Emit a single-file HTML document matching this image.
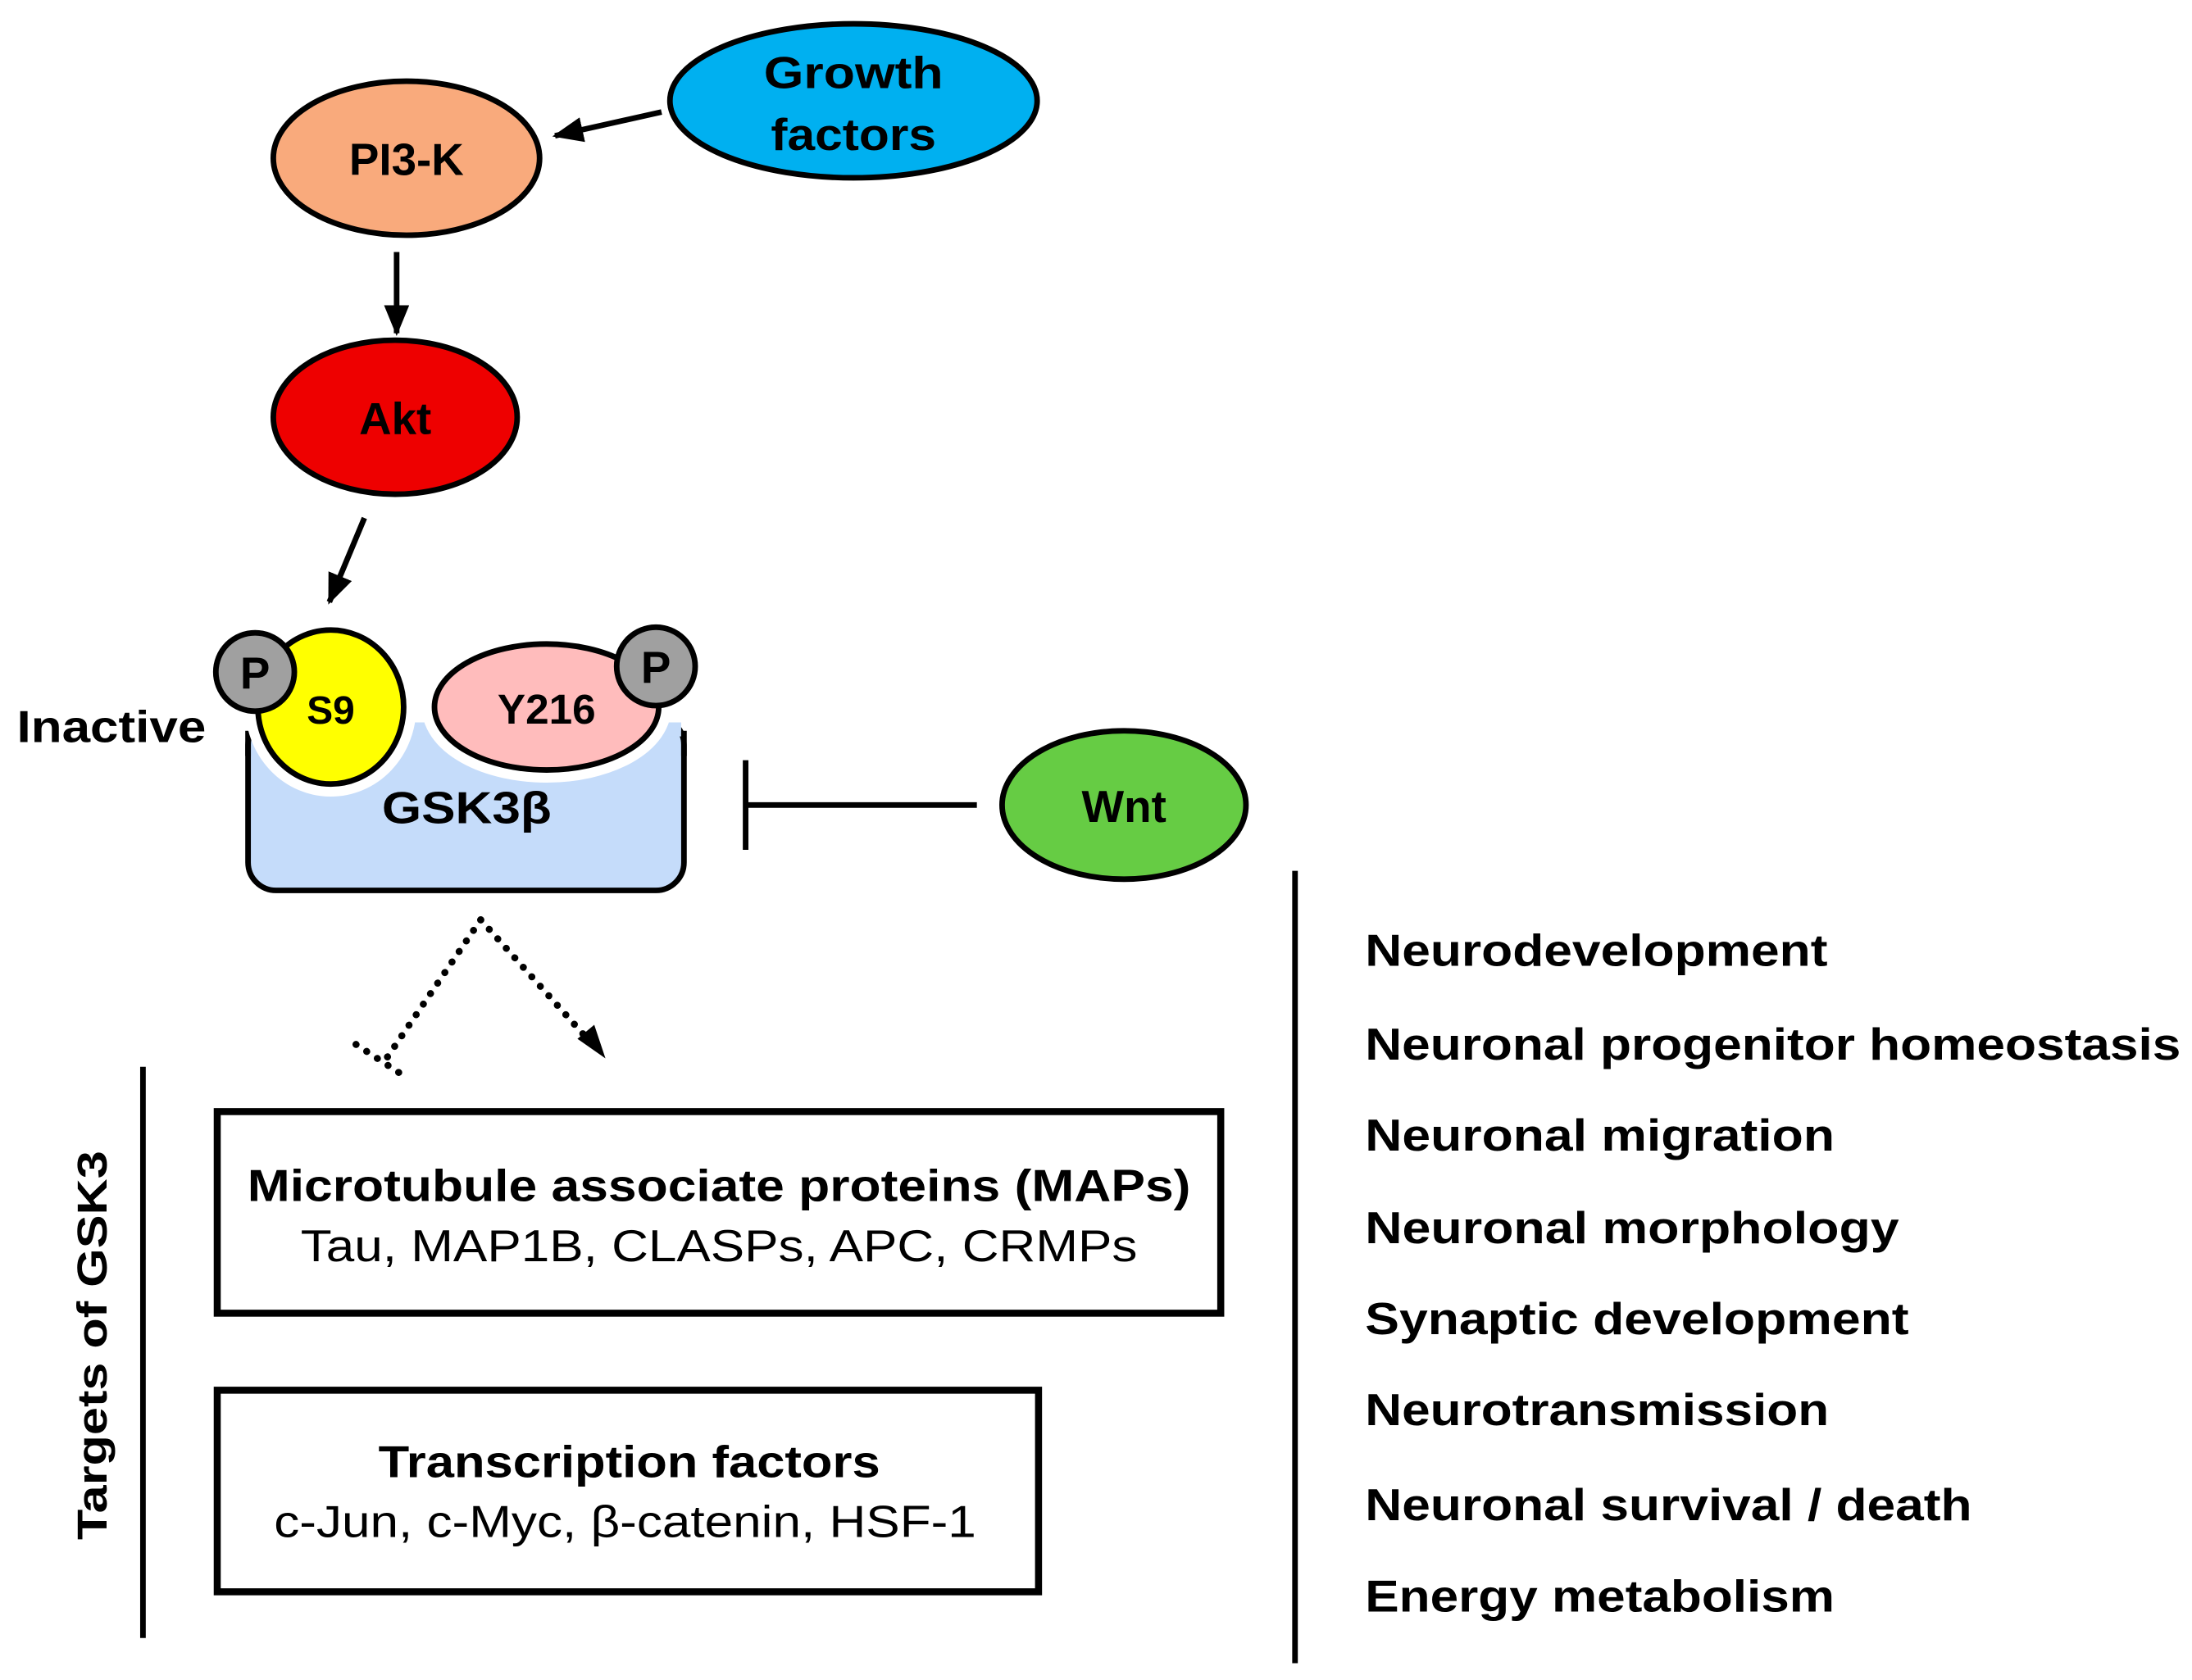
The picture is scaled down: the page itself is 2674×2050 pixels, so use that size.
<!DOCTYPE html>
<html><head><meta charset="utf-8"><style>
html,body{margin:0;padding:0;background:#fff;}
svg{display:block;}
text{font-family:"Liberation Sans",Arial,sans-serif;fill:#000;}
</style></head><body>
<svg width="2674" height="2050" viewBox="0 0 1564 1200" preserveAspectRatio="none" xmlns="http://www.w3.org/2000/svg">
<defs>
<marker id="ah2" markerWidth="22" markerHeight="18" refX="20" refY="9" orient="auto" markerUnits="userSpaceOnUse">
<path d="M0,0 L22,9 L0,18 z" fill="#000"/>
</marker>
</defs>
<ellipse cx="609" cy="72" rx="131" ry="55" fill="#00b0f0" stroke="#000" stroke-width="4"/>
<text x="609" y="63" font-size="32" font-weight="bold" text-anchor="middle" textLength="128" lengthAdjust="spacingAndGlyphs">Growth</text>
<text x="609" y="107" font-size="32" font-weight="bold" text-anchor="middle" textLength="118" lengthAdjust="spacingAndGlyphs">factors</text>
<ellipse cx="290" cy="113" rx="95" ry="55" fill="#f9aa7c" stroke="#000" stroke-width="4"/>
<text x="290" y="125" font-size="32" font-weight="bold" text-anchor="middle">PI3-K</text>
<line x1="472" y1="80" x2="396" y2="97" stroke="#000" stroke-width="4" marker-end="url(#ah2)"/>
<line x1="283" y1="180" x2="283" y2="238" stroke="#000" stroke-width="4" marker-end="url(#ah2)"/>
<ellipse cx="282" cy="298" rx="87" ry="55" fill="#ee0000" stroke="#000" stroke-width="4"/>
<text x="282" y="310" font-size="32" font-weight="bold" text-anchor="middle">Akt</text>
<line x1="260" y1="370" x2="235" y2="430" stroke="#000" stroke-width="4" marker-end="url(#ah2)"/>
<rect x="177" y="512" width="311" height="124" rx="20" fill="#c5dcfa" stroke="#000" stroke-width="4"/>
<rect x="170" y="500" width="330" height="18" fill="#fff"/>
<rect x="179" y="516" width="307" height="10" fill="#c5dcfa"/>
<line x1="177" y1="522" x2="177" y2="540" stroke="#000" stroke-width="4"/>
<line x1="488" y1="522" x2="488" y2="540" stroke="#000" stroke-width="4"/>
<ellipse cx="236" cy="505" rx="52" ry="55" fill="#fff" stroke="#fff" stroke-width="18"/>
<ellipse cx="390" cy="505" rx="80" ry="45" fill="#fff" stroke="#fff" stroke-width="18"/>
<rect x="170" y="440" width="330" height="72" fill="#fff"/>
<ellipse cx="236" cy="505" rx="52" ry="55" fill="#ffff00" stroke="#000" stroke-width="4"/>
<ellipse cx="390" cy="505" rx="80" ry="45" fill="#ffbcbc" stroke="#000" stroke-width="4"/>
<circle cx="182" cy="480" r="28" fill="#a0a0a0" stroke="#000" stroke-width="4"/>
<circle cx="468" cy="476" r="28" fill="#a0a0a0" stroke="#000" stroke-width="4"/>
<text x="182" y="492" font-size="32" font-weight="bold" text-anchor="middle">P</text>
<text x="468" y="488" font-size="32" font-weight="bold" text-anchor="middle">P</text>
<text x="236" y="517" font-size="28" font-weight="bold" text-anchor="middle">S9</text>
<text x="390" y="517" font-size="30" font-weight="bold" text-anchor="middle">Y216</text>
<text x="333" y="588" font-size="32" font-weight="bold" text-anchor="middle" textLength="121" lengthAdjust="spacingAndGlyphs">GSK3β</text>
<text x="12" y="530" font-size="32" font-weight="bold" textLength="135" lengthAdjust="spacingAndGlyphs">Inactive</text>
<line x1="532" y1="543" x2="532" y2="607" stroke="#000" stroke-width="4"/>
<line x1="532" y1="575" x2="697" y2="575" stroke="#000" stroke-width="4"/>
<ellipse cx="802" cy="575" rx="87" ry="53" fill="#66cc44" stroke="#000" stroke-width="4"/>
<text x="802" y="587" font-size="32" font-weight="bold" text-anchor="middle">Wnt</text>
<g stroke="#000" stroke-width="5" stroke-dasharray="0.1,9" stroke-linecap="round" fill="none">
<line x1="343" y1="657" x2="273" y2="760"/>
<line x1="254" y1="746" x2="292" y2="771"/>
<line x1="343" y1="657" x2="420" y2="743"/>
</g>
<path d="M432,756 L412,742 L424,732 z" fill="#000"/>
<line x1="102" y1="762" x2="102" y2="1170" stroke="#000" stroke-width="4"/>
<text transform="translate(76,961) rotate(-90)" font-size="30" font-weight="bold" text-anchor="middle" textLength="278" lengthAdjust="spacingAndGlyphs">Targets of GSK3</text>
<rect x="155" y="794" width="716" height="144" fill="#fff" stroke="#000" stroke-width="5"/>
<text x="513" y="858" font-size="32" font-weight="bold" text-anchor="middle" textLength="673" lengthAdjust="spacingAndGlyphs">Microtubule associate proteins (MAPs)</text>
<text x="513" y="901" font-size="32" text-anchor="middle" textLength="597" lengthAdjust="spacingAndGlyphs">Tau, MAP1B, CLASPs, APC, CRMPs</text>
<rect x="155" y="993" width="586" height="144" fill="#fff" stroke="#000" stroke-width="5"/>
<text x="449" y="1055" font-size="32" font-weight="bold" text-anchor="middle" textLength="358" lengthAdjust="spacingAndGlyphs">Transcription factors</text>
<text x="446" y="1098" font-size="32" text-anchor="middle" textLength="501" lengthAdjust="spacingAndGlyphs">c-Jun, c-Myc, β-catenin, HSF-1</text>
<line x1="924" y1="622" x2="924" y2="1188" stroke="#000" stroke-width="4"/>
<g font-size="32" font-weight="bold">
<text x="974" y="690" textLength="330" lengthAdjust="spacingAndGlyphs">Neurodevelopment</text>
<text x="974" y="757" textLength="582" lengthAdjust="spacingAndGlyphs">Neuronal progenitor homeostasis</text>
<text x="974" y="822" textLength="335" lengthAdjust="spacingAndGlyphs">Neuronal migration</text>
<text x="974" y="888" textLength="381" lengthAdjust="spacingAndGlyphs">Neuronal morphology</text>
<text x="974" y="953" textLength="388" lengthAdjust="spacingAndGlyphs">Synaptic development</text>
<text x="974" y="1018" textLength="331" lengthAdjust="spacingAndGlyphs">Neurotransmission</text>
<text x="974" y="1086" textLength="433" lengthAdjust="spacingAndGlyphs">Neuronal survival / death</text>
<text x="974" y="1151" textLength="335" lengthAdjust="spacingAndGlyphs">Energy metabolism</text>
</g>
</svg>
</body></html>
